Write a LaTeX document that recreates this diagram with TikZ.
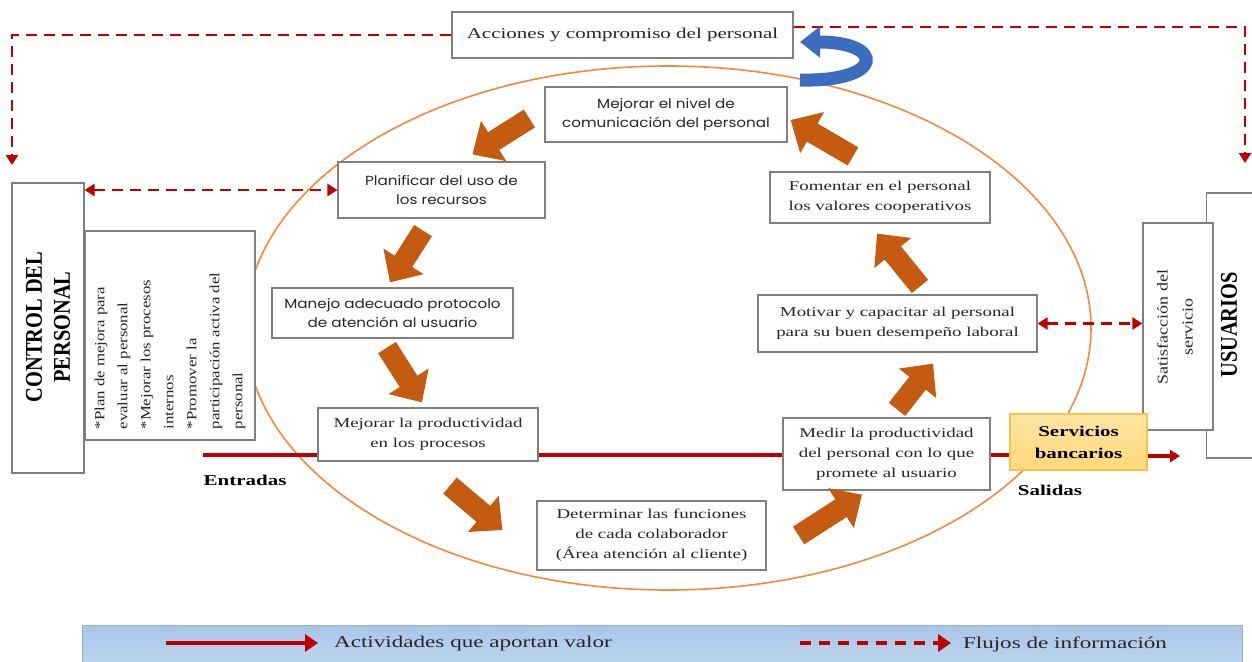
\documentclass[tikz,border=0pt]{standalone}
\usepackage{fontspec}
\setmainfont{Liberation Serif}[FakeStretch=1.4]
\newfontfamily\fsansbox{Poppins}[FakeStretch=1.15]
\newfontfamily\frotA{Liberation Serif}[FakeStretch=0.85]
\newfontfamily\frotB{Liberation Serif}[FakeStretch=1.2]
\usetikzlibrary{arrows.meta,calc}
\definecolor{boxgray}{HTML}{7F7F7F}
\definecolor{txt}{HTML}{262626}
\definecolor{redc}{HTML}{C00000}
\definecolor{blkc}{HTML}{C55A11}
\definecolor{ellc}{HTML}{F08A3C}
\definecolor{bluec}{HTML}{3C6CC0}
\definecolor{servfill}{HTML}{FFD97A}
\definecolor{servdraw}{HTML}{F7C34A}
\definecolor{legtop}{HTML}{A9C6E8}
\definecolor{legbot}{HTML}{BCD4EE}
\definecolor{legdraw}{HTML}{8FB0D9}
\begin{document}
\begin{tikzpicture}[x=1pt,y=-1pt,
  box/.style={draw=boxgray,line width=1.2pt,fill=white,inner sep=0pt,align=center,text=txt,font=\fontsize{13.5}{20}\selectfont},
  sbox/.style={box,font=\fsansbox\fontsize{13.2}{19}\selectfont},
  redline/.style={draw=redc,line width=3.4pt},
  reddash/.style={draw=redc,line width=2.8pt,dash pattern=on 11pt off 7pt},
  rtip/.style={-{Triangle[width=12pt,length=10pt]}},
  rtips/.style={{Triangle[width=12pt,length=10pt]}-{Triangle[width=12pt,length=10pt]}},
  blk/.style={draw=blkc,line width=21pt,-{Triangle[width=46pt,length=25pt]}},
  lbl/.style={inner sep=0pt,text=black,font=\bfseries\fontsize{15}{18}\selectfont},
]
\useasboundingbox (0,0) rectangle (1252,661);
\fill[white] (0,0) rectangle (1252,661);

% ellipse
\draw[ellc,line width=1.6pt] (668,328) ellipse [x radius=423pt, y radius=262pt];

% top box
\node[box,minimum width=341pt,minimum height=46pt,font=\fontsize{15}{18}\selectfont] (acc) at (622.5,35) {Acciones y compromiso del personal};

% left side
\node[box,minimum width=72pt,minimum height=290pt] (ctrl) at (48,328) {};
\node[rotate=90,align=center,inner sep=0pt,text=black,font=\frotA\bfseries\fontsize{24}{28}\selectfont] (ctrltxt) at (48,327) {CONTROL DEL\\PERSONAL};
\node[box,minimum width=170pt,minimum height=209pt] (plan) at (170,335.5) {};
\node[rotate=90,align=left,inner sep=0pt,text=txt,font=\frotB\fontsize{14}{23}\selectfont] (plantxt) at (170,351) {*Plan de mejora para\\evaluar al personal\\*Mejorar los procesos\\internos\\*Promover la\\participación activa del\\personal};

% cycle boxes
\node[sbox,minimum width=242pt,minimum height=55pt] (nivel) at (666,114.5) {Mejorar el nivel de\\comunicación del personal};
\node[sbox,minimum width=207pt,minimum height=56pt] (planif) at (441.5,190) {Planificar del uso de\\los recursos};
\node[sbox,minimum width=241pt,minimum height=50pt] (manejo) at (392.5,313) {Manejo adecuado protocolo\\de atención al usuario};
\node[box,minimum width=220pt,minimum height=53pt] (prod) at (428,434.5) {Mejorar la productividad\\en los procesos};
\node[box,minimum width=229pt,minimum height=69pt] (determ) at (651.5,535.5) {Determinar las funciones\\de cada colaborador\\(Área atención al cliente)};
\node[box,minimum width=207pt,minimum height=72pt] (medir) at (886.5,454) {Medir la productividad\\del personal con lo que\\promete al usuario};
\node[box,minimum width=279pt,minimum height=57pt] (motivar) at (897.5,323.5) {Motivar y capacitar al personal\\para su buen desempeño laboral};
\node[box,minimum width=220pt,minimum height=51pt] (foment) at (880,197.5) {Fomentar en el personal\\los valores cooperativos};

% right side
\node[box,minimum width=46pt,minimum height=265pt] (usu) at (1229.5,325.5) {};
\node[rotate=90,inner sep=0pt,text=black,font=\frotA\bfseries\fontsize{24}{28}\selectfont] (usutxt) at (1229,325) {USUARIOS};
\node[box,minimum width=70pt,minimum height=207pt] (satis) at (1178,326.5) {};
\node[rotate=90,align=center,inner sep=0pt,text=txt,font=\frotB\fontsize{15}{25}\selectfont] (satistxt) at (1175,327) {Satisfacción del\\servicio};
\node[draw=servdraw,line width=1.2pt,top color=servfill!70!white,bottom color=servfill,inner sep=0pt,minimum width=137pt,minimum height=56pt,align=center,text=black,font=\bfseries\fontsize{15}{22}\selectfont] (serv) at (1078.5,442) {Servicios\\bancarios};

% labels
\node[lbl] (entr) at (245,480) {Entradas};
\node[lbl] (sal) at (1050,490) {Salidas};

% red value line
\coordinate (inStart) at (203,455);
\coordinate (outEnd) at (1180,456);
\draw[redline] (inStart) -- (prod.west |- inStart);
\draw[redline] (prod.east |- inStart) -- (medir.west |- inStart);
\draw[redline] (medir.east |- inStart) -- (serv.west |- inStart);
\draw[redline,rtip] (serv.east |- outEnd) -- (outEnd);

% dashed information flows
\coordinate (cornL) at (12,35);
\coordinate (endL) at (12,165);
\coordinate (cornR) at (1245,27);
\coordinate (endR) at (1245,163);
\draw[reddash,rtip] (acc.west) -- (cornL) -- (endL);
\draw[reddash,rtip] (acc.east |- cornR) -- (cornR) -- (endR);
\draw[reddash,rtips] (ctrl.east |- planif.west) -- (planif.west);
\draw[reddash,rtips] (motivar.east) -- (satis.west |- motivar.east);

% blue curved arrow
\coordinate (bA) at (800,80);
\coordinate (bB) at (800,42);
\draw[bluec,line width=13pt,-{Triangle[width=30pt,length=20pt]}] (bA) .. controls (885,82) and (885,42) .. (bB);

% orange block arrows
\draw[blk] ($(nivel.west)+(-15,4)$) -- ($(planif.north)+(31,-7)$);
\draw[blk] ($(planif.south)+(-18.5,12)$) -- ($(manejo.north)+(-2.5,-5)$);
\draw[blk] ($(manejo.south)+(-5.5,9)$) -- ($(prod.north)+(-6,-5)$);
\draw[blk] ($(prod.south)+(22,24)$) -- ($(determ.west)+(-34,-5.5)$);
\draw[blk] ($(determ.east)+(32,0)$) -- ($(medir.south)+(-24.5,4)$);
\draw[blk] ($(medir.north)+(10.5,-8)$) -- ($(motivar.south)+(35.5,11)$);
\draw[blk] ($(motivar.north)+(22.5,-8)$) -- ($(foment.south)+(-3,10)$);
\draw[blk] ($(foment.north)+(-27,-15)$) -- ($(nivel.east)+(3,5.5)$);

% legend
\node[draw=legdraw,line width=0.8pt,top color=legtop,bottom color=legbot,inner sep=0pt,minimum width=1160pt,minimum height=37pt] (leg) at (662,643.5) {};
\coordinate (la) at (166,643);
\coordinate (lb) at (318,643);
\coordinate (lc) at (800,643);
\coordinate (ld) at (951,643);
\draw[redc,line width=4.5pt,-{Triangle[width=17pt,length=13pt]}] (la) -- (lb);
\draw[redc,line width=4.5pt,dash pattern=on 11pt off 8pt,-{Triangle[width=17pt,length=13pt]}] (lc) -- (ld);
\node[inner sep=0pt,text=txt,font=\fontsize{16.5}{20}\selectfont] (l1) at (473,644) {Actividades que aportan valor};
\node[inner sep=0pt,text=txt,font=\fontsize{16.5}{20}\selectfont] (l2) at (1065,644) {Flujos de información};
\end{tikzpicture}
\end{document}
